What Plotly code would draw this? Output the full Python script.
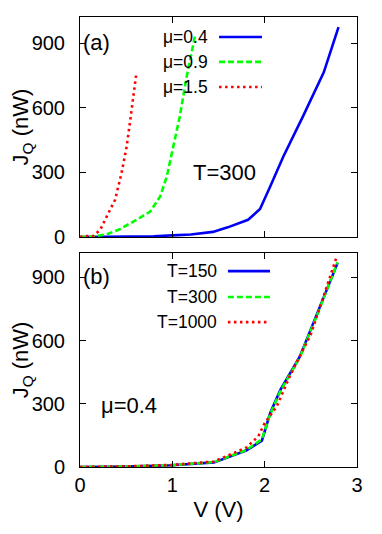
import plotly.graph_objects as go
from plotly.subplots import make_subplots

# ========== DATA ==========
# panel (a): T=300, three chemical potentials
v_mu04 = [0, 0.2, 0.4, 0.6, 0.8, 1.0, 1.2, 1.44, 1.6, 1.82, 1.95, 2.06, 2.2, 2.42, 2.64, 2.8]
jq_mu04 = [0, 0.5, 1, 2, 4, 8, 12, 24, 45, 80, 130, 235, 372, 565, 765, 975]

v_mu09 = [0, 0.15, 0.29, 0.43, 0.61, 0.76, 0.87, 0.94, 1.01, 1.08, 1.155, 1.23, 1.246]
jq_mu09 = [0, 3, 13, 36, 80, 118, 190, 281, 420, 559, 745, 915, 935]

v_mu15 = [0, 0.06, 0.14, 0.22, 0.29, 0.38, 0.45, 0.505, 0.54, 0.58, 0.607]
jq_mu15 = [0, 5, 4, 34, 96, 173, 297, 420, 529, 652, 750]

# panel (b): mu=0.4, three temperatures
v_t150 = [0, 0.5, 1.0, 1.45, 1.8, 1.97, 2.06, 2.17, 2.38, 2.58, 2.79]
jq_t150 = [0, 2, 8, 22, 78, 125, 256, 366, 524, 737, 969]

v_t300 = [0, 0.5, 1.0, 1.45, 1.8, 1.97, 2.06, 2.17, 2.38, 2.58, 2.79]
jq_t300 = [0, 2, 9, 23, 80, 132, 250, 360, 520, 735, 972]

v_t1000 = [0, 0.5, 1.0, 1.45, 1.8, 1.93, 2.0, 2.13, 2.27, 2.5, 2.78]
jq_t1000 = [0, 3, 10, 26, 92, 145, 208, 287, 429, 630, 998]

labels_a = ['\u03bc=0.4', '\u03bc=0.9', '\u03bc=1.5']
labels_b = ['T=150', 'T=300', 'T=1000']
y_ticks = [0, 300, 600, 900]
x_ticks = [0, 1, 2, 3]

# ========== STYLE ==========
FONT = "Liberation Sans, Arial, Helvetica"
styles = [
    dict(color='rgb(0,0,245)', width=2.6),
    dict(color='rgb(0,255,0)', width=2.6, dash='6px,3px'),
    dict(color='rgb(255,0,0)', width=2.6, dash='2.5px,3.5px'),
]

fig = make_subplots(rows=2, cols=1)

for xs, ys, st, name in zip([v_mu04, v_mu09, v_mu15], [jq_mu04, jq_mu09, jq_mu15], styles, labels_a):
    fig.add_trace(go.Scatter(x=xs, y=ys, mode='lines', line=st, name=name, showlegend=False), row=1, col=1)

for xs, ys, st, name in zip([v_t150, v_t300, v_t1000], [jq_t150, jq_t300, jq_t1000], styles, labels_b):
    fig.add_trace(go.Scatter(x=xs, y=ys, mode='lines', line=st, name=name, showlegend=False), row=2, col=1)

# gnuplot-like legends: text on the left, line sample on the right
shapes = []
annotations = []
leg_a = dict(xref='x domain', yref='y domain', tx=0.469, x0=0.502, x1=0.657, rows=[0.909, 0.796, 0.682])
leg_b = dict(xref='x2 domain', yref='y2 domain', tx=0.502, x0=0.534, x1=0.686, rows=[0.915, 0.794, 0.677])
for leg, labels in [(leg_a, labels_a), (leg_b, labels_b)]:
    for lab, st, yy in zip(labels, styles, leg['rows']):
        annotations.append(dict(xref=leg['xref'], yref=leg['yref'], x=leg['tx'], y=yy, text=lab,
                                showarrow=False, xanchor='right', yanchor='middle',
                                font=dict(size=17.5, family=FONT, color='black')))
        shapes.append(dict(type='line', xref=leg['xref'], yref=leg['yref'],
                           x0=leg['x0'], x1=leg['x1'], y0=yy, y1=yy, line=st))

annotations += [
    dict(xref='x domain', yref='y domain', x=0.004, y=0.882, text='(a)', showarrow=False,
         xanchor='left', yanchor='middle', font=dict(size=22, family=FONT, color='black')),
    dict(xref='x domain', yref='y domain', x=0.523, y=0.292, text='T=300', showarrow=False,
         xanchor='center', yanchor='middle', font=dict(size=22, family=FONT, color='black')),
    dict(xref='x2 domain', yref='y2 domain', x=0.004, y=0.888, text='(b)', showarrow=False,
         xanchor='left', yanchor='middle', font=dict(size=22, family=FONT, color='black')),
    dict(xref='x2 domain', yref='y2 domain', x=0.068, y=0.286, text='\u03bc=0.4', showarrow=False,
         xanchor='left', yanchor='middle', font=dict(size=22, family=FONT, color='black')),
]

# page body has an 8px margin, so the figure is 8px smaller than the window
fig.update_layout(
    width=374, height=526,
    margin=dict(l=72, r=25, t=9, b=67, autoexpand=False),
    paper_bgcolor='white', plot_bgcolor='white',
    font=dict(family=FONT, size=20, color='black'),
    shapes=shapes, annotations=annotations,
)

axis_common = dict(showline=True, linecolor='black', linewidth=1, mirror='allticks', automargin=False,
                   ticks='inside', ticklen=6, tickcolor='black', showgrid=False, zeroline=False)

fig.update_xaxes(range=[0, 3], tickvals=x_ticks, **axis_common)
fig.update_xaxes(domain=[0, 1], showticklabels=False, row=1, col=1)
fig.update_xaxes(domain=[0, 1], ticklabelstandoff=0,
                 title=dict(text='V (V)', font=dict(size=22), standoff=6), row=2, col=1)

fig.update_yaxes(range=[0, 1022], tickvals=y_ticks, ticklabelstandoff=10, **axis_common)
fig.update_yaxes(domain=[0.511, 1.0], title=dict(text='J<sub>Q</sub> (nW)', font=dict(size=22), standoff=0),
                 row=1, col=1)
fig.update_yaxes(domain=[0.0, 0.4756], range=[0, 1016],
                 title=dict(text='J<sub>Q</sub> (nW)', font=dict(size=22), standoff=0), row=2, col=1)

fig.write_html("out.html")
